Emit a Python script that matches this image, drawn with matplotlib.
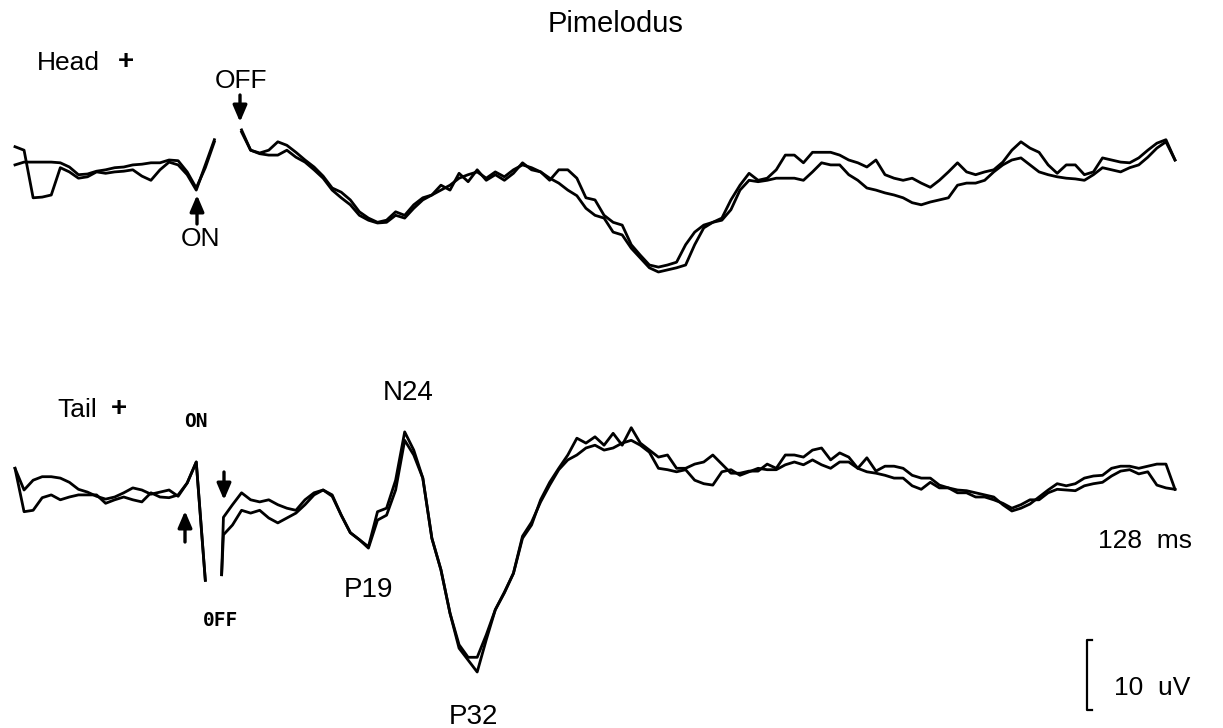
"""
Pimelodus evoked potentials: two superimposed sweeps for head+ and tail+ stimulation.
Writes out.png (1223 x 728 px).
"""

import numpy as np
import matplotlib
matplotlib.use("Agg")
import matplotlib.pyplot as plt

W_PX, H_PX = 1223, 728
DPI = 100

# ---------------------------------------------------------------------------
# Data: sweep of 128 ms sampled every 1 ms, amplitudes in uV (upward positive).
# NaN marks the blanked stimulus artefact.
# ---------------------------------------------------------------------------
nan = np.nan
TIME_MS = np.arange(0, 129, dtype=float)

HEAD_A = [
    1.9, 1.4, -5.4, -5.3, -5.0, -1.1, -1.7, -2.6, -2.4, -1.7,
    -1.9, -1.7, -1.6, -1.4, -2.3, -2.9, -1.4, -0.3, -0.7, -2.1,
    -4.3, -0.7, 2.9, nan, nan, 4.3, 1.4, 1.0, 1.4, 2.6,
    2.1, 1.1, 0.0, -1.0, -2.3, -4.0, -4.6, -5.7, -7.4, -8.3,
    -8.9, -8.6, -7.4, -7.9, -6.4, -5.4, -5.0, -3.6, -4.3, -1.9,
    -3.1, -1.4, -2.9, -2.1, -2.9, -1.9, -0.4, -1.4, -1.7, -2.9,
    -1.4, -1.4, -2.6, -5.4, -5.7, -7.9, -8.9, -9.3, -12.1, -13.6,
    -15.0, -15.3, -15.0, -14.6, -12.1, -10.3, -9.3, -8.9, -8.3, -5.7,
    -3.6, -1.9, -2.9, -2.6, -1.4, 0.7, 0.7, -0.4, 1.1, 1.1,
    1.1, 0.7, 0.0, -0.4, -1.0, 0.0, -2.1, -2.6, -2.9, -2.6,
    -3.3, -3.9, -2.9, -1.7, -0.4, -1.7, -2.1, -1.7, -1.4, -0.3,
    1.4, 2.6, 1.7, 1.1, -0.7, -1.9, -0.7, -0.7, -2.1, -1.7,
    0.3, 0.0, -0.3, -0.4, 0.3, 1.4, 2.4, 2.9, 0.0,
]

HEAD_B = [
    -0.7, -0.3, -0.3, -0.3, -0.3, -0.4, -1.0, -2.1, -2.0, -1.6,
    -1.4, -1.1, -1.0, -0.7, -0.6, -0.4, -0.4, 0.0, -0.1, -1.7,
    -4.0, -1.1, 2.6, nan, nan, 4.0, 1.4, 0.9, 0.7, 0.7,
    1.4, 0.4, -0.3, -1.4, -2.6, -4.3, -5.4, -6.4, -7.9, -8.6,
    -9.0, -8.9, -7.9, -8.3, -6.9, -5.7, -5.0, -4.3, -3.6, -2.6,
    -2.1, -1.7, -2.6, -1.7, -2.4, -1.4, -0.7, -1.1, -1.7, -2.6,
    -3.3, -4.3, -5.1, -6.9, -7.9, -8.3, -10.3, -10.7, -12.6, -14.0,
    -15.4, -16.0, -15.7, -15.4, -15.0, -12.1, -9.7, -8.9, -8.6, -7.1,
    -4.3, -2.9, -3.1, -2.9, -2.6, -2.6, -2.6, -2.9, -1.7, -0.4,
    -0.7, -0.7, -2.1, -2.9, -4.0, -4.3, -4.7, -5.0, -5.4, -6.1,
    -6.4, -6.0, -5.7, -5.4, -3.6, -3.3, -3.3, -2.9, -1.7, -0.7,
    0.0, 0.3, -0.7, -1.7, -2.1, -2.4, -2.6, -2.7, -2.9, -2.1,
    -1.1, -1.4, -1.7, -1.1, -0.7, 0.4, 1.7, 2.6, 0.0,
]

# tail sweep has one extra sample where the trace restarts after the artefact
TAIL_TIME_MS = np.concatenate([np.arange(0, 23), [22.8], np.arange(23, 129)]).astype(float)

TAIL_A = [
    3.1, 0.0, 1.4, 1.9, 1.9, 1.7, 1.1, 0.1, -0.3, -0.9,
    -1.3, -1.0, -0.4, 0.3, 0.0, -0.6, -0.3, 0.0, -0.9, 1.0,
    4.0, -12.9, nan, -12.1, -3.9, -2.1, -0.4, -1.4, -1.7, -1.4,
    -2.1, -2.6, -2.9, -1.4, -0.4, 0.0, -0.7, -3.6, -6.1, -7.1,
    -8.1, -3.1, -2.6, 1.4, 8.3, 5.7, 1.7, -6.9, -11.4, -17.6,
    -22.1, -23.9, -23.9, -20.7, -17.1, -14.7, -11.9, -6.9, -5.0, -1.4,
    1.1, 3.1, 5.0, 7.4, 6.7, 7.6, 6.4, 8.1, 6.4, 8.9,
    6.7, 5.7, 4.7, 5.0, 3.1, 3.1, 3.7, 4.0, 5.0, 3.7,
    2.4, 2.4, 2.7, 2.7, 3.7, 3.1, 5.0, 5.0, 4.7, 5.7,
    6.0, 4.3, 5.3, 4.7, 3.1, 4.6, 2.7, 3.4, 3.4, 3.1,
    2.1, 1.7, 1.7, 0.7, 0.3, 0.0, -0.1, -0.4, -0.7, -1.0,
    -2.1, -3.0, -2.6, -2.0, -1.0, 0.0, 0.9, 0.6, 0.9, 1.7,
    2.0, 2.1, 3.1, 3.4, 3.4, 3.1, 3.4, 3.7, 3.7, 0.1,
]

TAIL_B = [
    3.1, -3.1, -2.9, -1.1, -0.7, -1.4, -1.0, -0.7, -0.7, -0.7,
    -1.9, -1.4, -1.0, -1.4, -1.7, -0.4, -1.0, -1.1, -0.7, 1.0,
    4.0, -12.9, nan, -12.1, -6.4, -5.0, -2.9, -3.3, -2.9, -4.0,
    -4.7, -4.0, -3.3, -2.1, -0.7, 0.0, -0.9, -3.6, -6.1, -7.1,
    -8.3, -4.3, -3.6, 0.0, 7.1, 5.0, 1.7, -6.9, -11.4, -17.6,
    -22.6, -24.3, -26.0, -21.4, -17.1, -14.6, -11.9, -6.6, -4.6, -1.7,
    0.7, 2.9, 4.3, 5.0, 6.0, 6.4, 5.7, 6.0, 6.7, 7.1,
    6.4, 5.4, 3.1, 2.9, 2.6, 2.9, 1.4, 0.9, 0.7, 2.6,
    2.9, 2.1, 2.6, 3.1, 2.9, 2.9, 3.6, 4.0, 3.6, 4.3,
    3.6, 3.1, 4.0, 4.0, 3.1, 2.6, 2.4, 2.1, 1.7, 1.7,
    0.6, 0.1, 1.1, 0.3, 0.3, -0.4, -0.4, -1.0, -1.0, -1.4,
    -1.9, -2.6, -2.1, -1.4, -1.4, -0.4, 0.1, 0.0, -0.1, 0.6,
    0.9, 1.1, 2.0, 2.7, 2.9, 2.3, 2.6, 0.7, 0.3, 0.1,
]

SCALE_UV = 10

# ---------------------------------------------------------------------------
# Layout (page pixels -> data units)
# ---------------------------------------------------------------------------
PX_PER_MS = 9.0625
PX_PER_UV = 7.0
X0_PX = 15                 # sweep start
HEAD_BASE_PX = 160
TAIL_BASE_PX = 490

FONT = "Liberation Sans"
MONO = "DejaVu Sans Mono"


def frac(x_px, y_px):
    """page pixel -> figure fraction"""
    return x_px / W_PX, 1 - y_px / H_PX


fig = plt.figure(figsize=(W_PX / DPI, H_PX / DPI), dpi=DPI)
fig.patch.set_facecolor("white")
ax = fig.add_axes([0, 0, 1, 1])
ax.set_xlim(-X0_PX / PX_PER_MS, (W_PX - X0_PX) / PX_PER_MS)
ax.set_ylim(-H_PX / PX_PER_UV, 0)
ax.axis("off")

head_off = -HEAD_BASE_PX / PX_PER_UV
tail_off = -TAIL_BASE_PX / PX_PER_UV

for trace in (HEAD_A, HEAD_B):
    ax.plot(TIME_MS, np.array(trace) + head_off, color="black", lw=2.0,
            solid_joinstyle="round")
for trace in (TAIL_A, TAIL_B):
    ax.plot(TAIL_TIME_MS, np.array(trace) + tail_off, color="black", lw=2.0,
            solid_joinstyle="round")

# 10 uV calibration bracket
bar_t = (1087 - X0_PX) / PX_PER_MS
bar_top = -640 / PX_PER_UV
tick = 0.6
ax.plot([bar_t + tick, bar_t, bar_t, bar_t + tick],
        [bar_top, bar_top, bar_top - SCALE_UV, bar_top - SCALE_UV],
        color="black", lw=1.6)

# ---------------------------------------------------------------------------
# Labels
# ---------------------------------------------------------------------------
def label(x_px, y_px, s, size=19, family=FONT, weight="normal"):
    fig.text(*frac(x_px, y_px), s, ha="center", va="center",
             fontsize=size, family=family, weight=weight)


label(616, 24, "Pimelodus", size=21)
label(68, 63, "Head", size=19)
label(126, 62, "+", size=20, weight="bold")
label(241, 81, "OFF", size=19)
label(201, 239, "ON", size=19)

label(77, 410, "Tail", size=19)
label(119, 409, "+", size=20, weight="bold")
label(196, 421, "ON", size=14, family=MONO, weight="bold")
label(221, 620, "0FF", size=14, family=MONO, weight="bold")
label(408, 393, "N24", size=20)
label(368, 590, "P19", size=20)
label(473, 717, "P32", size=20)
label(1145, 541, "128  ms", size=19)
label(1152, 688, "10  uV", size=19)


def arrow(x_px, y_from, y_to):
    ax.annotate("", xy=frac(x_px, y_to), xytext=frac(x_px, y_from),
                xycoords="figure fraction", textcoords="figure fraction",
                arrowprops=dict(arrowstyle="-|>,head_length=0.7,head_width=0.3",
                                lw=2.4, color="black", mutation_scale=14,
                                shrinkA=0, shrinkB=0))


arrow(240, 95, 122)   # head OFF
arrow(197, 224, 195)  # head ON
arrow(224, 472, 500)  # tail OFF
arrow(185, 542, 511)  # tail ON

fig.savefig("out.png", dpi=DPI, facecolor="white")
plt.close(fig)
